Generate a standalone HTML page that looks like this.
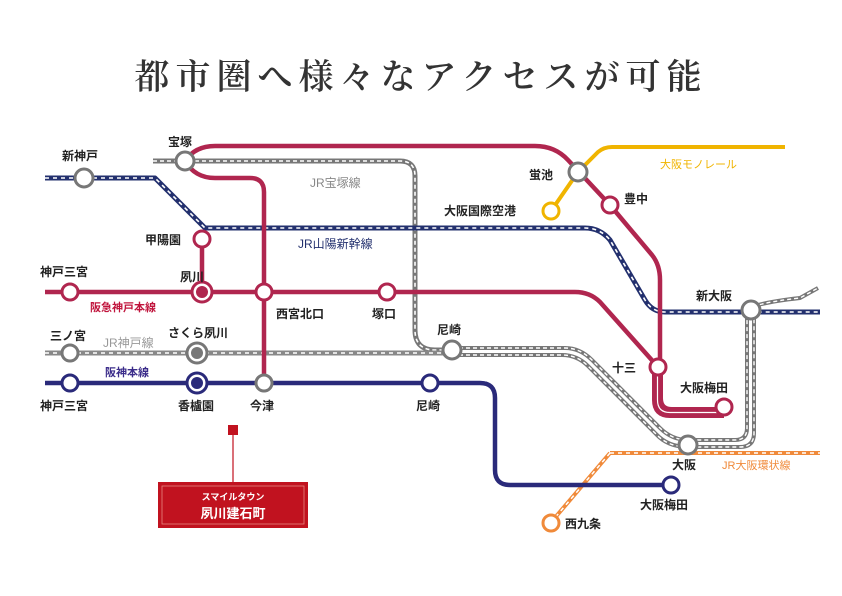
<!DOCTYPE html>
<html><head><meta charset="utf-8"><style>
html,body{margin:0;padding:0;background:#fff;}
svg{display:block;}
text{font-family:"Liberation Sans","Noto Sans CJK JP",sans-serif;font-weight:bold;font-size:12px;fill:#222;}
</style></head><body>
<svg width="842" height="596" viewBox="0 0 842 596" xmlns="http://www.w3.org/2000/svg">
<rect width="842" height="596" fill="#fff"/>
<text x="421" y="89" text-anchor="middle" style="font-family:'Liberation Serif','Noto Serif CJK SC',serif;font-size:35px;font-weight:600;fill:#333;letter-spacing:6px">都市圏へ様々なアクセスが可能</text>

<g fill="none" stroke-linejoin="round" stroke-linecap="butt">
<path d="M153 161 H400 Q415 161 415 176 V330 Q415 350 435 350 H452" stroke="#777" stroke-width="5"/>
<path d="M153 161 H400 Q415 161 415 176 V330 Q415 350 435 350 H452" stroke="#fff" stroke-width="1.6" stroke-dasharray="4 3"/>
<path d="M45 353 H452" stroke="#888" stroke-width="5"/>
<path d="M45 353 H452" stroke="#fff" stroke-width="1.6" stroke-dasharray="4 4"/>
<path d="M452 348 H565 Q580 348 592 360 L660 428 Q672 440 688 440 H735 Q747 440 747 428 V310 Q755 303 800 298 L818 288" stroke="#777" stroke-width="4"/>
<path d="M452 355 H562 Q577 355 588 366 L656 434 Q668 447 688 447 H740 Q754 447 754 433 V310" stroke="#777" stroke-width="4"/>
<path d="M452 348 H565 Q580 348 592 360 L660 428 Q672 440 688 440 H735 Q747 440 747 428 V310 Q755 303 800 298 L818 288" stroke="#fff" stroke-width="1.4" stroke-dasharray="4 3"/>
<path d="M452 355 H562 Q577 355 588 366 L656 434 Q668 447 688 447 H740 Q754 447 754 433 V310" stroke="#fff" stroke-width="1.4" stroke-dasharray="4 3"/>
<path d="M45 178 H155 L205 228 H585 Q600 228 610 240 L645 300 Q652 312 665 312 H820" stroke="#23306e" stroke-width="5"/>
<path d="M45 178 H155 L205 228 H585 Q600 228 610 240 L645 300 Q652 312 665 312 H820" stroke="#fff" stroke-width="1.6" stroke-dasharray="4 4"/>
<path d="M610 453 H820 M610 453 L553 520" stroke="#f08a3a" stroke-width="4"/>
<path d="M610 453 H820 M610 453 L553 520" stroke="#fff" stroke-width="1.5" stroke-dasharray="4 4"/>
<path d="M551 211 L578 172 L598 152 Q604 147 612 147 H785" stroke="#f0b400" stroke-width="4"/>
<path d="M185 161 Q195 146 215 146 H535 Q555 146 568 160 L610 205 L652 255 Q660 265 660 280 V405 Q660 411 670 411 H724" stroke="#b0264f" stroke-width="4.5"/>
<path d="M655 370 V400 Q655 415 670 415 H724 M660 370 V398 Q660 410 672 410 H724" stroke="#b0264f" stroke-width="6"/>
<path d="M657.5 372 V400 Q657.5 412.5 670 412.5 H720" stroke="#fff" stroke-width="1.2"/>
<path d="M185 161 Q195 178 215 178 H250 Q264 178 264 192 V383" stroke="#b0264f" stroke-width="4.5"/>
<path d="M45 292 H575 Q590 292 600 302 L658 367 M202 239 V292" stroke="#b0264f" stroke-width="4.5"/>
<path d="M45 383 H480 Q495 383 495 398 V470 Q495 485 510 485 H671" stroke="#2a2a7a" stroke-width="4.5"/>
</g>

<g stroke-width="3" fill="#fff">
<circle cx="185" cy="161" r="9" stroke="#777"/>
<circle cx="84" cy="178" r="9" stroke="#777"/>
<circle cx="578" cy="172" r="9" stroke="#777"/>
<circle cx="551" cy="211" r="8" stroke="#f0b400"/>
<circle cx="610" cy="205" r="8" stroke="#b0264f"/>
<circle cx="202" cy="239" r="8" stroke="#b0264f"/>
<circle cx="70" cy="292" r="8" stroke="#b0264f"/>
<circle cx="202" cy="292" r="10" stroke="#b0264f"/>
<circle cx="202" cy="292" r="6" fill="#b0264f" stroke="none"/>
<circle cx="264" cy="292" r="8" stroke="#b0264f"/>
<circle cx="387" cy="292" r="8" stroke="#b0264f"/>
<circle cx="751" cy="310" r="9" stroke="#777"/>
<circle cx="70" cy="353" r="8" stroke="#777"/>
<circle cx="197" cy="353" r="10" stroke="#777"/>
<circle cx="197" cy="353" r="6" fill="#777" stroke="none"/>
<circle cx="452" cy="350" r="9" stroke="#777"/>
<circle cx="658" cy="367" r="8" stroke="#b0264f"/>
<circle cx="70" cy="383" r="8" stroke="#2a2a7a"/>
<circle cx="197" cy="383" r="10" stroke="#2a2a7a"/>
<circle cx="197" cy="383" r="6" fill="#2a2a7a" stroke="none"/>
<circle cx="264" cy="383" r="8" stroke="#777"/>
<circle cx="430" cy="383" r="8" stroke="#2a2a7a"/>
<circle cx="724" cy="407" r="8" stroke="#b0264f"/>
<circle cx="688" cy="445" r="9" stroke="#777"/>
<circle cx="671" cy="485" r="8" stroke="#2a2a7a"/>
<circle cx="551" cy="523" r="8" stroke="#f08a3a"/>
</g>

<text x="168" y="146">宝塚</text>
<text x="62" y="160">新神戸</text>
<text x="310" y="187" style="fill:#888;font-weight:normal">JR宝塚線</text>
<text x="529" y="179">蛍池</text>
<text x="660" y="168" style="fill:#f0b400;font-weight:normal;font-size:11px">大阪モノレール</text>
<text x="444" y="215">大阪国際空港</text>
<text x="624" y="203">豊中</text>
<text x="145" y="244">甲陽園</text>
<text x="298" y="248" style="fill:#23306e;font-weight:normal">JR山陽新幹線</text>
<text x="40" y="276">神戸三宮</text>
<text x="180" y="281">夙川</text>
<text x="90" y="311" style="fill:#c0143c;font-size:11px">阪急神戸本線</text>
<text x="276" y="318">西宮北口</text>
<text x="372" y="318">塚口</text>
<text x="696" y="300">新大阪</text>
<text x="437" y="334">尼崎</text>
<text x="50" y="340">三ノ宮</text>
<text x="103" y="347" style="fill:#999;font-weight:normal">JR神戸線</text>
<text x="168" y="337">さくら夙川</text>
<text x="612" y="372">十三</text>
<text x="105" y="376" style="fill:#3b2c8a;font-size:11px">阪神本線</text>
<text x="680" y="392">大阪梅田</text>
<text x="40" y="410">神戸三宮</text>
<text x="178" y="410">香櫨園</text>
<text x="250" y="410">今津</text>
<text x="416" y="410">尼崎</text>
<text x="672" y="469">大阪</text>
<text x="722" y="469" style="fill:#f08a3a;font-weight:normal;font-size:11px">JR大阪環状線</text>
<text x="640" y="509">大阪梅田</text>
<text x="565" y="528">西九条</text>

<rect x="228" y="425" width="10" height="10" fill="#c1121f"/>
<line x1="233" y1="435" x2="233" y2="483" stroke="#c1121f" stroke-width="1.2"/>
<rect x="158" y="482" width="150" height="46" fill="#c1121f"/>
<rect x="162" y="486" width="142" height="38" fill="none" stroke="#e8857f" stroke-width="0.8"/>
<text x="233" y="500" text-anchor="middle" style="fill:#fff;font-size:9px">スマイルタウン</text>
<text x="233" y="518" text-anchor="middle" style="fill:#fff;font-size:13px">夙川建石町</text>
</svg>
</body></html>
